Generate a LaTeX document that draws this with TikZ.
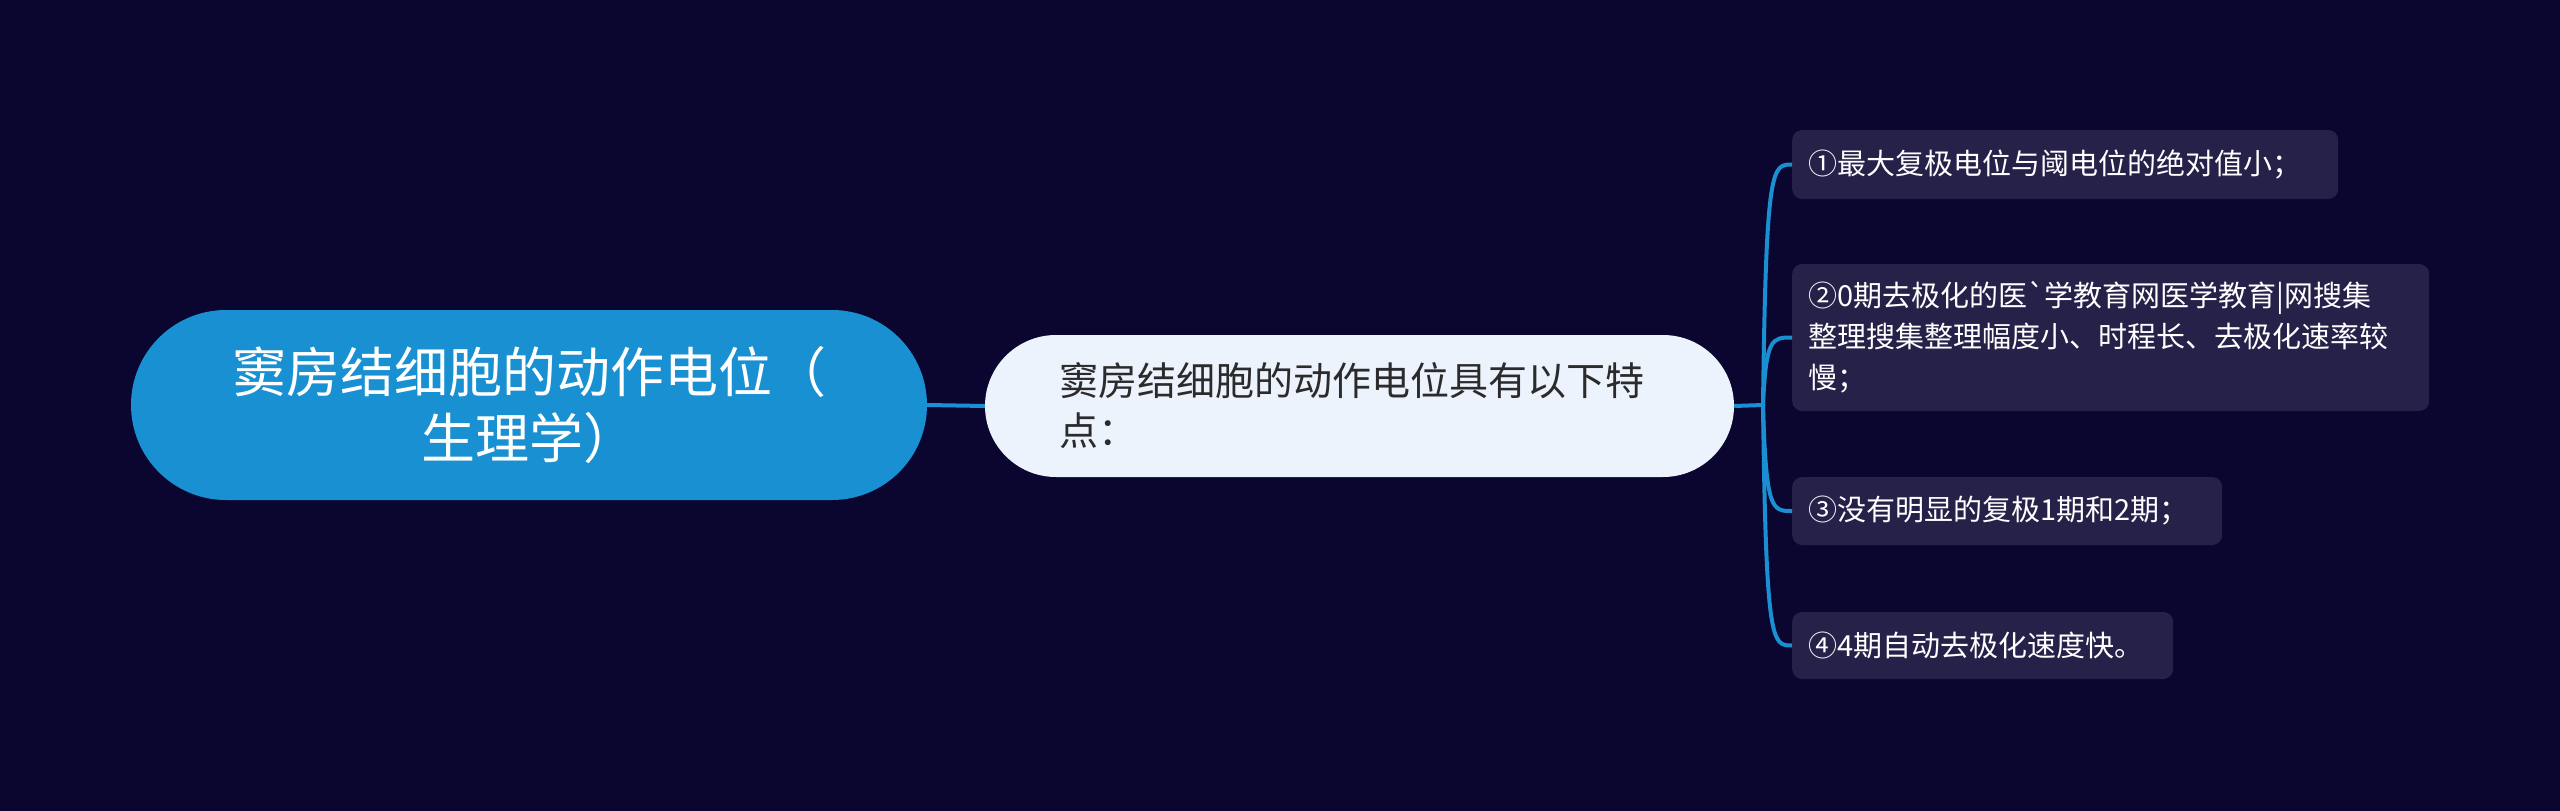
\documentclass[tikz,border=0pt]{standalone}
\usepackage{fontspec}
\usetikzlibrary{calc}
\newfontfamily\cjk{Noto Sans CJK SC}[Ligatures=TeXOff]
\definecolor{bgc}{HTML}{0A0630}
\definecolor{rootc}{HTML}{1890D1}
\definecolor{midc}{HTML}{EDF3FD}
\definecolor{leafc}{HTML}{262149}
\definecolor{linkc}{HTML}{1A8FD2}
\definecolor{midtext}{HTML}{2B2B2B}
\begin{document}
\begin{tikzpicture}[x=1pt,y=-1pt,
  link/.style={draw=linkc, line width=4pt},
  rootbox/.style={fill=rootc, rounded corners=95pt, minimum width=796pt, minimum height=190pt, text=white, align=center, inner sep=0pt, font=\cjk\fontsize{54}{66}\selectfont},
  midbox/.style={fill=midc, rounded corners=71pt, minimum width=749pt, minimum height=142pt, text=midtext, text width=600pt, align=left, inner sep=0pt, font=\cjk\fontsize{39}{50}\selectfont},
  leaf/.style={fill=leafc, rounded corners=10pt, text=white, align=left, anchor=west, inner xsep=16pt, inner ysep=0pt, font=\cjk\fontsize{29}{41}\selectfont}]
\fill[bgc] (0,0) rectangle (2560,811);
\useasboundingbox (0,0) rectangle (2560,811);
\node[rootbox] (r) at (529,405) {窦房结细胞的动作电位（\\生理学）};
\node[midbox] (m) at (1359.5,406) {窦房结细胞的动作电位具有以下特\\点：};
\node[leaf, minimum height=69pt, text width=514pt] (l1) at (1792,164.5) {①最大复极电位与阈电位的绝对值小；};
\node[leaf, minimum height=147pt, text width=605pt] (l2) at (1792,337.5) {②0期去极化的医`学教育网医学教育|网搜集\\整理搜集整理幅度小、时程长、去极化速率较\\慢；};
\node[leaf, minimum height=68pt, text width=398pt] (l3) at (1792,511) {③没有明显的复极1期和2期；};
\node[leaf, minimum height=67pt, text width=349pt] (l4) at (1792,645.5) {④4期自动去极化速度快。};
\coordinate (bus) at (1763,405);
\draw[link] (r.east) -- (m.west);
\draw[link] (m.east) -- (bus);
\foreach \l in {l1,l2,l3,l4}{
  \draw[link] (bus) .. controls ($(bus|-\l.west)+(3,0)$) and ($(bus|-\l.west)+(9,0)$) .. (\l.west);
}
\end{tikzpicture}
\end{document}
